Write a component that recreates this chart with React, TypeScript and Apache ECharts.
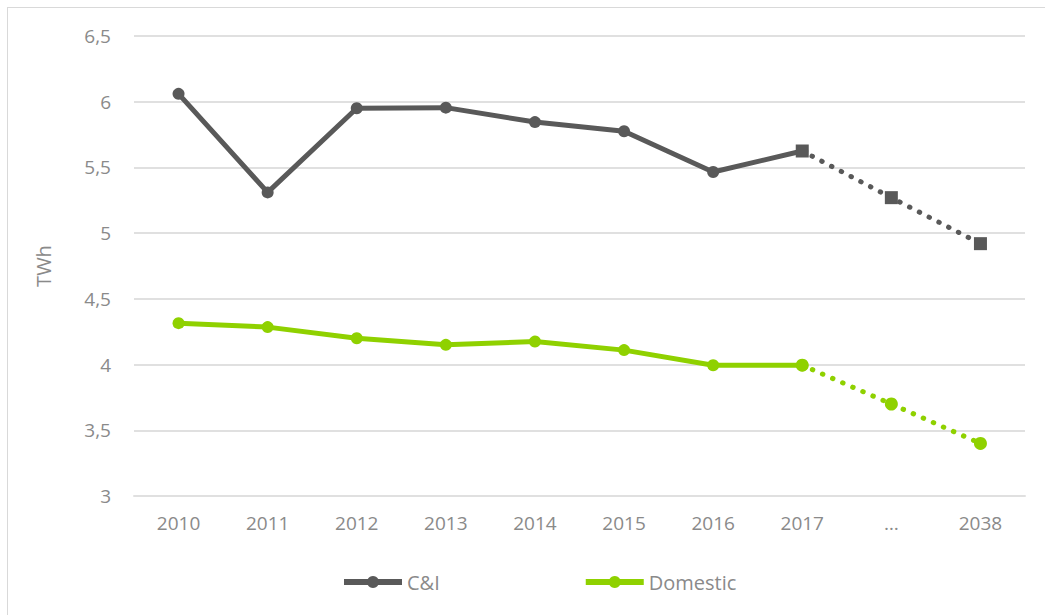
import React, { useEffect, useRef } from "react";
import * as echarts from "echarts";

const categories = ["2010", "2011", "2012", "2013", "2014", "2015", "2016", "2017", "…", "2038"];
const ciActual = [6.06, 5.31, 5.95, 5.955, 5.845, 5.775, 5.465, 5.625, null, null];
const ciProjected = [null, null, null, null, null, null, null, 5.625, 5.27, 4.92];
const domActual = [4.315, 4.285, 4.2, 4.15, 4.175, 4.11, 3.995, 3.995, null, null];
const domProjected = [null, null, null, null, null, null, null, 3.995, 3.7, 3.4];

const GRAY = "#595959";
const GREEN = "#8fd100";
const TEXT = "#8a8a8a";
const GRID = "#e0e0e0";
const FONT = "'Open Sans', sans-serif";

export default function App() {
  const ref = useRef<HTMLDivElement>(null);
  useEffect(() => {
    if (!ref.current) return;
    const chart = echarts.init(ref.current, undefined, { renderer: "svg" });
    chart.setOption({
      animation: false,
      textStyle: { fontFamily: FONT },
      grid: { left: 126, right: 28, top: 28, bottom: 127 },
      legend: {
        left: 328,
        top: 559,
        itemWidth: 58,
        itemHeight: 15,
        itemGap: 143,
        lineStyle: { width: 6 },
        textStyle: { color: TEXT, fontSize: 20, fontFamily: FONT },
        data: ["C&I", "Domestic"],
      },
      xAxis: {
        type: "category",
        data: categories,
        boundaryGap: true,
        axisLine: { show: true, lineStyle: { color: GRID, width: 2 } },
        axisTick: { show: false },
        axisLabel: { color: TEXT, fontSize: 19, margin: 17, fontFamily: FONT },
      },
      yAxis: {
        type: "value",
        min: 3,
        max: 6.5,
        interval: 0.5,
        name: "TWh",
        nameLocation: "middle",
        nameRotate: 90,
        nameGap: 81,
        nameTextStyle: { color: TEXT, fontSize: 20, fontFamily: FONT },
        axisLine: { show: false },
        axisTick: { show: false },
        splitLine: { lineStyle: { color: GRID, width: 2 } },
        axisLabel: {
          color: TEXT,
          fontSize: 19,
          margin: 23,
          fontFamily: FONT,
          formatter: (v: number) => String(v).replace(".", ","),
        },
      },
      series: [
        {
          name: "C&I",
          type: "line",
          data: ciActual,
          symbol: "circle",
          symbolSize: 12,
          itemStyle: { color: GRAY },
          lineStyle: { color: GRAY, width: 5 },
          z: 3,
        },
        {
          name: "C&I proj",
          type: "line",
          data: ciProjected,
          symbol: "rect",
          symbolSize: 13,
          itemStyle: { color: GRAY },
          lineStyle: { color: GRAY, width: 5, type: [0.5, 10.5], cap: "round" },
          z: 2,
        },
        {
          name: "Domestic",
          type: "line",
          data: domActual,
          symbol: "circle",
          symbolSize: 12,
          itemStyle: { color: GREEN },
          lineStyle: { color: GREEN, width: 5 },
          z: 3,
        },
        {
          name: "Domestic proj",
          type: "line",
          data: domProjected,
          symbol: "circle",
          symbolSize: 13,
          itemStyle: { color: GREEN },
          lineStyle: { color: GREEN, width: 5, type: [0.5, 10.5], cap: "round" },
          z: 2,
        },
      ],
    });
    return () => chart.dispose();
  }, []);

  return (
    <div style={{ position: "fixed", left: 0, top: 0, width: 1045, height: 615, overflow: "hidden", background: "#fff" }}>
      <div style={{ position: "absolute", left: 7, top: 7, width: 1045, height: 615, border: "1px solid #d9d9d9" }}>
        <div ref={ref} style={{ width: 1045, height: 615 }} />
      </div>
    </div>
  );
}
